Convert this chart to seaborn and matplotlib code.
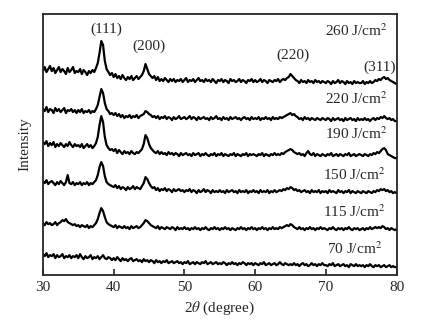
import numpy as np
import pandas as pd
import seaborn as sns
import matplotlib.pyplot as plt

# scan grid, 0.25 deg step
two_theta = np.arange(30.0, 80.001, 0.25)

# stacked intensities (a.u.), one row = 5 degrees
i_260 = [
    204, 208, 203, 206, 209, 204, 207, 202, 205, 208, 203, 206, 204, 201, 207, 203, 205, 208, 202, 204,
    203, 206, 201, 205, 203, 200, 204, 202, 205, 203, 207, 212, 222, 234, 230, 214, 206, 203, 200, 202,
    198, 201, 197, 199, 196, 200, 197, 195, 198, 196, 199, 195, 197, 199, 196, 198, 200, 204, 211, 206,
    201, 199, 197, 199, 195, 198, 194, 196, 194, 197, 195, 193, 196, 194, 196, 193, 195, 194, 196, 193,
    195, 197, 193, 195, 194, 196, 193, 195, 197, 194, 195, 193, 196, 194, 195, 193, 196, 194, 192, 195,
    194, 196, 193, 195, 194, 192, 196, 194, 195, 193, 194, 196, 193, 195, 194, 192, 195, 194, 196, 193,
    195, 193, 194, 196, 193, 195, 194, 192, 195, 194, 193, 195, 194, 196, 193, 195, 196, 195, 197, 198,
    201, 199, 197, 195, 194, 192, 195, 193, 194, 192, 195, 193, 194, 192, 195, 193, 194, 192, 194, 193,
    192, 194, 193, 191, 194, 192, 193, 195, 192, 194, 193, 191, 194, 192, 193, 191, 194, 192, 193, 192,
    192, 194, 191, 193, 192, 194, 192, 193, 195, 194, 196, 195, 197, 198, 196, 197, 195, 194, 193, 192,
    191,
]
i_220 = [
    166, 164, 168, 163, 166, 165, 162, 167, 164, 166, 163, 165, 167, 162, 165, 164, 166, 163, 165, 162,
    165, 163, 166, 162, 164, 163, 165, 162, 164, 163, 166, 170, 178, 186, 182, 172, 166, 164, 161, 162,
    160, 162, 159, 161, 158, 160, 157, 159, 158, 160, 157, 159, 158, 160, 157, 159, 160, 161, 164, 163,
    161, 160, 158, 159, 157, 159, 156, 158, 157, 159, 156, 158, 157, 155, 158, 156, 157, 159, 156, 157,
    158, 156, 157, 159, 156, 158, 157, 155, 158, 156, 157, 158, 156, 157, 155, 158, 156, 157, 159, 156,
    157, 155, 158, 156, 157, 155, 158, 156, 157, 158, 156, 157, 155, 157, 158, 156, 157, 155, 158, 156,
    157, 156, 158, 155, 157, 156, 158, 156, 157, 155, 158, 156, 157, 156, 158, 157, 158, 159, 160, 161,
    162, 160, 161, 159, 158, 156, 157, 155, 158, 156, 157, 155, 157, 156, 155, 157, 156, 155, 157, 156,
    155, 157, 156, 154, 157, 155, 156, 157, 155, 156, 154, 157, 155, 156, 157, 155, 156, 154, 157, 155,
    156, 155, 157, 155, 156, 154, 156, 157, 155, 157, 156, 158, 157, 159, 157, 156, 157, 155, 156, 154,
    154,
]
i_190 = [
    133, 131, 134, 129, 132, 130, 133, 128, 131, 129, 132, 130, 128, 131, 129, 133, 130, 128, 131, 129,
    130, 128, 131, 127, 129, 131, 128, 130, 127, 129, 132, 138, 150, 159, 153, 138, 130, 127, 125, 126,
    124, 126, 122, 125, 123, 121, 124, 122, 123, 121, 124, 122, 121, 123, 122, 124, 126, 131, 140, 137,
    131, 127, 125, 123, 122, 124, 121, 123, 121, 122, 120, 123, 121, 122, 120, 122, 121, 119, 122, 120,
    121, 122, 120, 121, 119, 122, 120, 121, 122, 119, 121, 120, 122, 120, 119, 121, 120, 122, 119, 121,
    120, 122, 119, 121, 120, 119, 121, 120, 122, 119, 121, 120, 119, 121, 120, 122, 119, 121, 120, 121,
    120, 119, 121, 120, 122, 119, 121, 120, 119, 121, 120, 122, 120, 121, 120, 122, 121, 123, 124, 125,
    126, 125, 123, 122, 121, 122, 120, 121, 119, 122, 124, 121, 120, 122, 119, 121, 120, 119, 121, 120,
    119, 121, 120, 122, 119, 120, 121, 119, 121, 120, 119, 121, 120, 122, 119, 120, 121, 119, 120, 121,
    120, 119, 121, 120, 119, 121, 120, 122, 121, 123, 122, 124, 126, 127, 125, 121, 120, 119, 118, 117,
    117,
]
i_150 = [
    94, 92, 95, 91, 93, 94, 92, 90, 93, 91, 94, 92, 90, 93, 100, 92, 91, 93, 90, 92,
    91, 93, 90, 92, 91, 93, 90, 92, 91, 93, 95, 100, 108, 113, 109, 99, 93, 91, 90, 89,
    88, 90, 87, 89, 86, 88, 87, 85, 88, 86, 87, 89, 86, 88, 87, 86, 89, 92, 98, 96,
    92, 89, 87, 88, 85, 87, 84, 86, 85, 87, 84, 86, 85, 83, 86, 84, 85, 86, 84, 85,
    83, 85, 84, 86, 83, 85, 84, 82, 85, 83, 84, 86, 83, 85, 84, 82, 85, 83, 84, 83,
    85, 83, 84, 82, 85, 83, 84, 85, 83, 84, 82, 85, 83, 84, 83, 85, 82, 84, 83, 85,
    83, 84, 82, 85, 83, 84, 83, 85, 82, 84, 83, 85, 83, 84, 85, 84, 86, 85, 87, 86,
    88, 87, 85, 86, 84, 85, 83, 84, 85, 83, 84, 82, 85, 83, 84, 83, 85, 82, 84, 83,
    84, 82, 85, 83, 84, 83, 82, 85, 83, 84, 82, 84, 83, 85, 82, 84, 83, 82, 84, 83,
    82, 84, 83, 82, 84, 83, 82, 84, 83, 85, 84, 86, 85, 86, 84, 85, 83, 84, 82, 83,
    82,
]
i_115 = [
    52, 50, 53, 51, 52, 50, 51, 53, 50, 52, 53, 55, 54, 56, 53, 52, 51, 50, 51, 49,
    50, 48, 50, 49, 48, 50, 47, 49, 48, 50, 52, 56, 62, 67, 64, 58, 53, 51, 50, 49,
    48, 50, 47, 49, 48, 47, 49, 47, 48, 46, 49, 47, 48, 49, 47, 48, 50, 52, 55, 54,
    52, 50, 49, 48, 47, 49, 46, 48, 47, 46, 48, 47, 46, 48, 47, 45, 48, 46, 47, 46,
    48, 46, 47, 45, 47, 46, 48, 46, 47, 45, 47, 46, 48, 46, 45, 47, 46, 48, 46, 47,
    45, 47, 46, 48, 46, 47, 45, 47, 46, 45, 47, 46, 48, 46, 47, 45, 47, 46, 48, 46,
    47, 45, 47, 46, 48, 46, 47, 45, 47, 46, 48, 46, 47, 46, 48, 47, 48, 49, 50, 49,
    51, 50, 48, 47, 46, 48, 46, 47, 45, 47, 46, 48, 46, 47, 45, 47, 46, 48, 46, 47,
    46, 45, 47, 46, 48, 46, 45, 47, 46, 47, 45, 47, 46, 48, 46, 45, 47, 46, 47, 45,
    46, 47, 45, 47, 46, 48, 46, 47, 48, 47, 48, 47, 49, 48, 46, 47, 45, 47, 46, 45,
    46,
]
i_70 = [
    21, 19, 22, 18, 20, 19, 21, 17, 20, 18, 19, 21, 17, 19, 18, 20, 17, 19, 18, 20,
    17, 21, 18, 16, 19, 17, 18, 20, 16, 18, 17, 19, 16, 18, 20, 17, 16, 18, 17, 15,
    17, 15, 18, 16, 14, 17, 15, 16, 14, 16, 17, 14, 15, 16, 14, 15, 13, 16, 14, 15,
    13, 15, 14, 12, 15, 13, 14, 12, 14, 13, 15, 12, 13, 14, 12, 13, 14, 12, 13, 11,
    13, 12, 14, 11, 12, 13, 11, 13, 12, 11, 13, 12, 14, 11, 12, 13, 11, 12, 13, 11,
    12, 11, 13, 12, 10, 12, 11, 13, 11, 12, 10, 12, 11, 13, 12, 10, 12, 11, 12, 10,
    12, 11, 10, 12, 11, 13, 10, 11, 12, 10, 11, 12, 10, 11, 13, 11, 10, 12, 11, 10,
    11, 10, 12, 10, 11, 9, 11, 12, 10, 11, 9, 10, 12, 10, 11, 9, 11, 10, 12, 10,
    10, 9, 11, 10, 12, 9, 10, 11, 9, 10, 11, 9, 10, 8, 11, 10, 9, 11, 9, 10,
    9, 10, 8, 10, 9, 11, 9, 8, 10, 9, 10, 8, 9, 10, 8, 9, 10, 8, 9, 8,
    8,
]

fluences = ['260', '220', '190', '150', '115', '70']
patterns = [i_260, i_220, i_190, i_150, i_115, i_70]
peaks = ['(111)', '(200)', '(220)', '(311)']

sns.set_style("ticks")
plt.rcParams['font.family'] = ['Liberation Serif', 'DejaVu Serif']
plt.rcParams['mathtext.fontset'] = 'stix'

fig = plt.figure(figsize=(4.21, 3.26), dpi=100)
ax = fig.add_axes([0.102, 0.156, 0.840, 0.801])

rows = []
for f, vals in zip(fluences, patterns):
    rows.append(pd.DataFrame({'two_theta': two_theta, 'intensity': vals, 'fluence': f}))
df = pd.concat(rows, ignore_index=True)

for f in fluences:
    sns.lineplot(data=df[df['fluence'] == f], x='two_theta', y='intensity',
                 color='black', lw=1.6, ax=ax)

fs = 11
# fluence labels
label_pos = [(78.8, 244), (78.75, 176), (78.8, 141), (78.5, 100), (78.5, 63), (77.9, 26)]
for f, (lx, ly) in zip(fluences, label_pos):
    ax.text(lx, ly, f + ' J/cm$^2$', ha='right', va='center', fontsize=fs)

# peak labels
peak_pos = [(38.9, 246), (45.0, 229), (65.4, 220), (77.6, 208)]
for p, (px, py) in zip(peaks, peak_pos):
    ax.text(px, py, p, ha='center', va='center', fontsize=fs)

ax.set_xlim(30, 80)
ax.set_ylim(0, 261)
ax.set_xticks([30, 40, 50, 60, 70, 80])
ax.set_yticks([])
ax.tick_params(axis='x', direction='in', length=4, width=1.2, labelsize=fs, pad=4)
for s in ax.spines.values():
    s.set_linewidth(1.3)
    s.set_visible(True)
ax.set_xlabel(r'2$\theta$ (degree)', fontsize=fs, labelpad=4)
ax.set_ylabel('Intensity', fontsize=fs, labelpad=8)

fig.savefig('out.png', dpi=100)
